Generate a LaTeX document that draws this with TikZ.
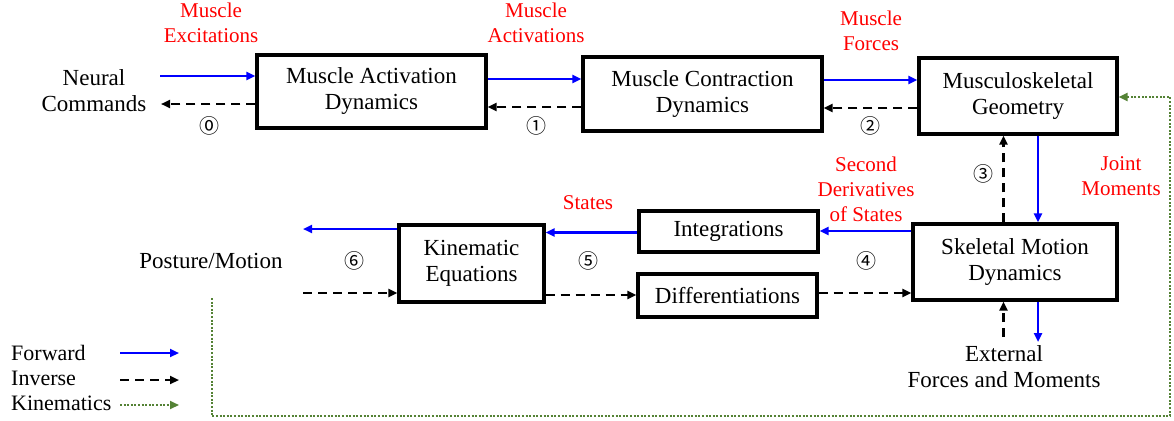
\documentclass[tikz,border=0pt]{standalone}
\usepackage{fontspec}
\setmainfont{Liberation Serif}
\newfontfamily\circfont{Noto Sans CJK SC}
\usetikzlibrary{arrows.meta}
\definecolor{fwdblue}{RGB}{0,0,255}
\definecolor{lblred}{RGB}{255,0,0}
\definecolor{kinegreen}{RGB}{84,130,53}
\begin{document}
\begin{tikzpicture}[x=1pt,y=-1pt,
  box/.style={draw,line width=3.2pt,inner sep=0pt,align=center,font=\rmfamily\fontsize{23}{26}\selectfont},
  lbl/.style={align=center,font=\rmfamily\fontsize{23}{26}\selectfont,inner sep=0pt},
  leg/.style={font=\rmfamily\fontsize{22}{25}\selectfont,inner sep=0pt,anchor=base west},
  rlbl/.style={align=center,text=lblred,font=\rmfamily\fontsize{21}{25}\selectfont,inner sep=0pt},
  num/.style={font=\circfont\fontsize{20}{20}\selectfont,inner sep=0pt},
  tip/.style={-{Triangle[length=9pt,width=8pt]}},
  fwd/.style={draw=fwdblue,line width=2.2pt,tip},
  inv/.style={draw=black,line width=2.2pt,dash pattern=on 9pt off 6pt,tip},
  kin/.style={draw=kinegreen,line width=2pt,dash pattern=on 2pt off 1.6pt,tip}]
\useasboundingbox (0,0) rectangle (1174,420);

% boxes
\node[box,minimum width=229pt,minimum height=73pt] (b1) at (371.5,91.5) {Muscle Activation\\Dynamics};
\node[box,minimum width=239pt,minimum height=74pt] (b2) at (702.5,94) {Muscle Contraction\\Dynamics};
\node[box,minimum width=198pt,minimum height=76pt] (b3) at (1018,96) {Musculoskeletal\\Geometry};
\node[box,minimum width=204pt,minimum height=76pt] (sk) at (1015,262) {Skeletal Motion\\Dynamics};
\node[box,minimum width=179pt,minimum height=41pt] (ig) at (728.5,231.5) {Integrations};
\node[box,minimum width=179pt,minimum height=43pt] (df) at (727.5,295.5) {Differentiations};
\node[box,minimum width=145pt,minimum height=77pt] (kn) at (471.5,263.5) {Kinematic\\Equations};

% plain labels
\node[lbl] (neural) at (94,91) {Neural\\Commands};
\node[lbl] (posture) at (211,261) {Posture/Motion};
\node[lbl] (ext) at (1004,367) {External\\Forces and Moments};

% red labels
\node[rlbl] (rexc) at (211,23) {Muscle\\Excitations};
\node[rlbl] (ract) at (536,23) {Muscle\\Activations};
\node[rlbl] (rfor) at (871,31) {Muscle\\Forces};
\node[rlbl] (rjm) at (1121,176) {Joint\\Moments};
\node[rlbl] (rsd) at (866,189) {Second\\Derivatives\\of States};
\node[rlbl] (rst) at (588,203) {States};

% circled numbers
\node[num] (n0) at (209,126) {⓪};
\node[num] (n1) at (536,126) {①};
\node[num] (n2) at (870,126) {②};
\node[num] (n3) at (983,174) {③};
\node[num] (n4) at (866,261) {④};
\node[num] (n5) at (588,261) {⑤};
\node[num] (n6) at (354,261) {⑥};

% free ends
\coordinate (neIn) at (160,76);
\coordinate (neOut) at (161,104);
\coordinate (pmOut) at (303,229);
\coordinate (pmIn) at (303,293);
\coordinate (exIn) at (1003.5,337);
\coordinate (exOut) at (1038,342);
\coordinate (kStart) at (211.5,298);

% top row
\draw[fwd] (neIn) -- (b1.west |- neIn);
\draw[inv] (b1.west |- neOut) -- (neOut);
\draw[fwd] (b1.east |- 0,79) -- (b2.west |- 0,79);
\draw[inv] (b2.west |- 0,107) -- (b1.east |- 0,107);
\draw[fwd] (b2.east |- 0,80) -- (b3.west |- 0,80);
\draw[inv] (b3.west |- 0,108) -- (b2.east |- 0,108);

% vertical between geometry and skeletal
\draw[inv] (sk.north -| 1003.5,0) -- (b3.south -| 1003.5,0);
\draw[fwd] (b3.south -| 1038,0) -- (sk.north -| 1038,0);

% middle row
\draw[fwd] (sk.west |- 0,231) -- (ig.east |- 0,231);
\draw[fwd] (ig.west |- 0,232.5) -- (kn.east |- 0,232.5);
\draw[fwd] (kn.west |- pmOut) -- (pmOut);
\draw[inv] (pmIn) -- (kn.west |- pmIn);
\draw[inv] (kn.east |- 0,295) -- (df.west |- 0,295);
\draw[inv] (df.east |- 0,293) -- (sk.west |- 0,293);

% below skeletal
\draw[inv] (exIn) -- (sk.south -| exIn);
\draw[fwd] (sk.south -| exOut) -- (exOut);

% kinematics loop
\draw[kin] (kStart) -- (211.5,416) -- (1170,416) -- (1170,97) -- (b3.east |- 0,97);

% legend
\node[leg] (lf) at (11,360) {Forward};
\node[leg] (li) at (11,385) {Inverse};
\node[leg] (lk) at (11,410) {Kinematics};
\coordinate (lfa) at (120,353); \coordinate (lfb) at (179,353);
\coordinate (lia) at (120,380); \coordinate (lib) at (179,380);
\coordinate (lka) at (120,405); \coordinate (lkb) at (179,405);
\draw[fwd] (lfa) -- (lfb);
\draw[inv] (lia) -- (lib);
\draw[kin] (lka) -- (lkb);
\end{tikzpicture}
\end{document}
